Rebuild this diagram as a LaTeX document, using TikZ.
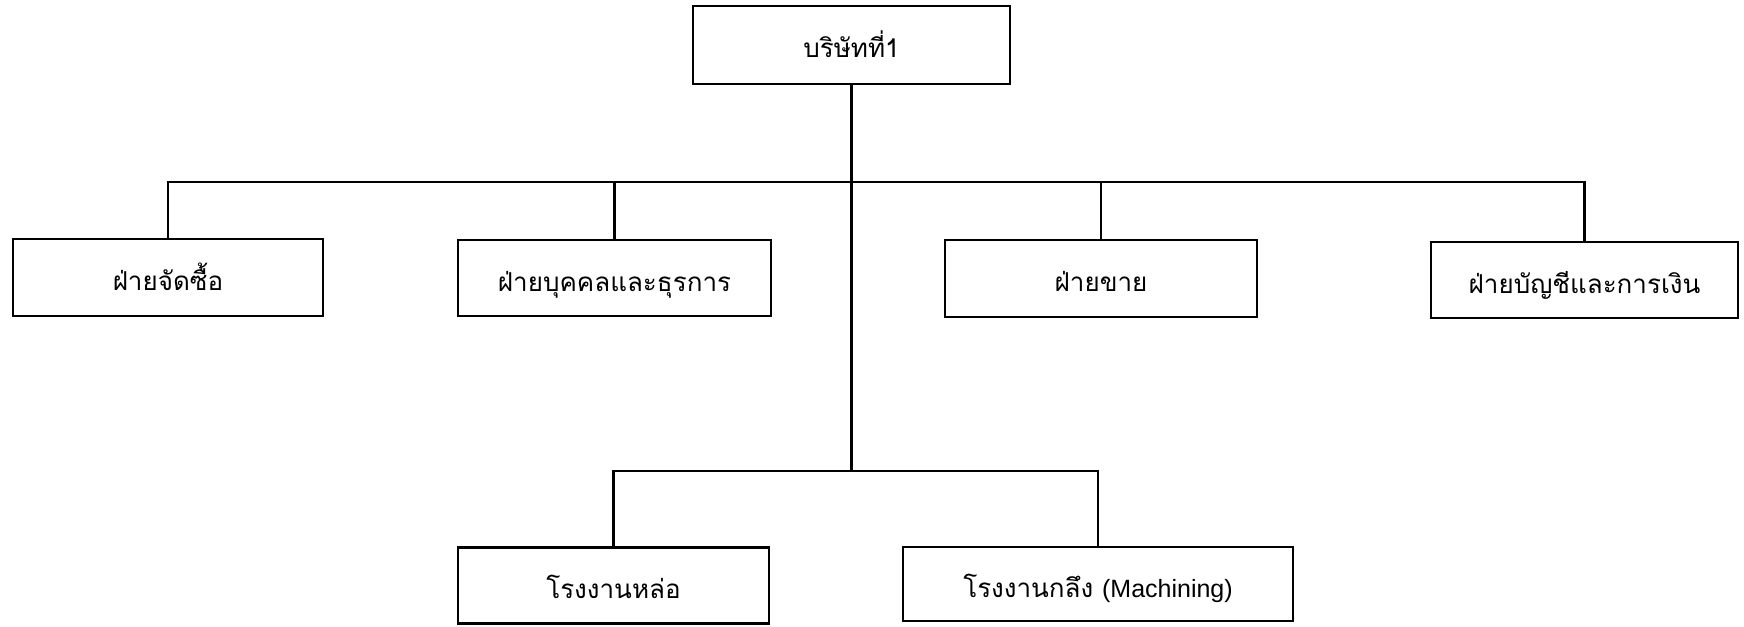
\documentclass[tikz,border=0pt]{standalone}
\usepackage{fontspec}
\setmainfont{Liberation Sans}
\newfontfamily\thaifont[Script=Thai]{Loma}
\tikzset{
  orgbox/.style={draw, line width=2.4pt, inner sep=0pt, anchor=center,
    text height=32pt, text depth=6pt,
    font=\thaifont\fontsize{26}{30}\selectfont},
  link/.style={line width=2.4pt}
}
\begin{document}
\begin{tikzpicture}[x=1pt,y=-1pt]
\useasboundingbox (0,0) rectangle (1744,626);
\node[orgbox, minimum width=317pt, minimum height=78pt] (top) at (851.5,45) {บริษัทที่1};
\node[orgbox, minimum width=310pt, minimum height=77pt] (b1) at (168,277.5) {ฝ่ายจัดซื้อ};
\node[orgbox, minimum width=313pt, minimum height=76pt] (b2) at (614.5,278) {ฝ่ายบุคคลและธุรการ};
\node[orgbox, minimum width=312pt, minimum height=77pt] (b3) at (1101,278.5) {ฝ่ายขาย};
\node[orgbox, minimum width=307pt, minimum height=76pt] (b4) at (1584.5,280) {ฝ่ายบัญชีและการเงิน};
\node[orgbox, minimum width=311pt, minimum height=76pt] (f1) at (613.5,585.5) {โรงงานหล่อ};
\node[orgbox, minimum width=390pt, minimum height=74pt] (f2) at (1098,584) {โรงงานกลึง {\rmfamily\fontsize{25}{30}\selectfont(Machining)}};
\coordinate (j1) at (851.5,182);
\coordinate (j2) at (851.5,471);
\draw[link] (top.south) -- (j2);
\draw[link] (b1.north) -- (b1.north |- j1) -- (b4.north |- j1) -- (b4.north);
\draw[link] (b2.north) -- (b2.north |- j1);
\draw[link] (b3.north) -- (b3.north |- j1);
\draw[link] (f1.north) -- (f1.north |- j2) -- (f2.north |- j2) -- (f2.north);
\end{tikzpicture}
\end{document}
